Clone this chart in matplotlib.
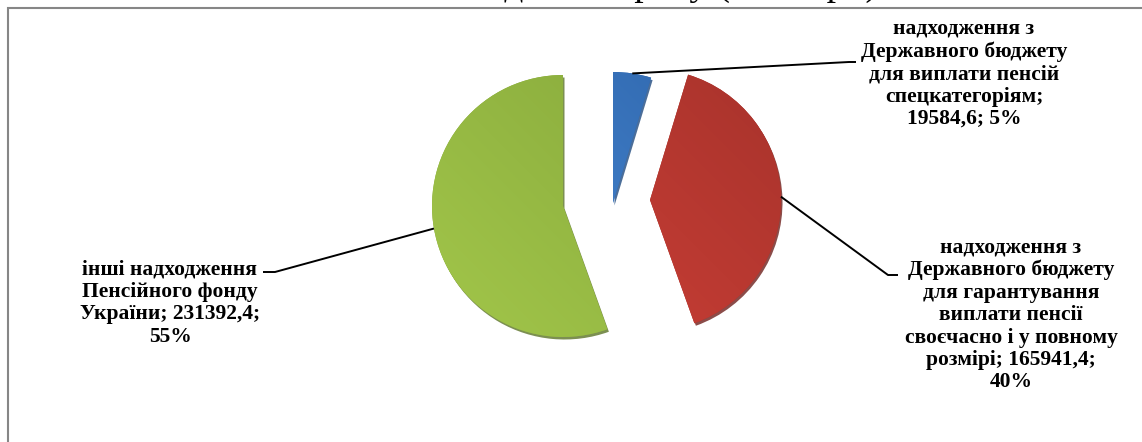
import numpy as np
import matplotlib
matplotlib.use("Agg")
from matplotlib import pyplot as plt
from matplotlib.colors import LinearSegmentedColormap
from matplotlib.patches import Wedge

# pension fund receipts, mln UAH
categories = [
    "надходження з\nДержавного бюджету\nдля виплати пенсій\nспецкатегоріям",
    "надходження з\nДержавного бюджету\nдля гарантування\nвиплати пенсії\nсвоєчасно і у повному\nрозмірі",
    "інші надходження\nПенсійного фонду\nУкраїни",
]
values = [19584.6, 165941.4, 231392.4]
shares_pct = [5, 40, 55]
title = "Обсяги коштів ПФ до 2011 року (млн. грн)"

# (light, dark) gradient ends per slice
colors = [("#4a8ad6", "#2f67ad"), ("#cc3f36", "#a8332c"), ("#a2c64a", "#88aa3c")]
shadow_colors = ["#1f4a80", "#6e1f1b", "#5b7327"]

# layout in pixels (y measured upward from bottom of the figure)
W, H = 1142, 442
radius = 131
slice_centers = [(613, 239), (650, 242), (563, 236)]
label_pos = [(964, 368), (1011, 127), (170, 139)]
leader_elbows = [[(849, 380), (856, 380)],
                 [(888, 167), (898, 167)],
                 [(275, 170), (263, 170)]]

fig = plt.figure(figsize=(W / 100, H / 100), dpi=100)
ax = fig.add_axes([0, 0, 1, 1])

wedges, _ = ax.pie(values, startangle=90, counterclock=False, radius=radius,
                   center=slice_centers[0], wedgeprops=dict(linewidth=0))

for i, w in enumerate(wedges):
    cx, cy = slice_centers[i]
    w.set_center((cx, cy))
    w.set_facecolor(colors[i][1])
    w.set_zorder(3)
    # soft dark rim to imitate the 3D edge
    sh = Wedge((cx + 1.5, cy - 2.5), radius, w.theta1, w.theta2,
               facecolor=shadow_colors[i], edgecolor="none", alpha=0.8, zorder=2)
    ax.add_patch(sh)
    cmap = LinearSegmentedColormap.from_list("g%d" % i, [colors[i][0], colors[i][1]])
    yy, xx = np.mgrid[0:1:100j, 0:1:100j]
    grad = (xx * 0.5 + (1 - yy) * 0.5)
    im = ax.imshow(grad, cmap=cmap, extent=[cx - radius, cx + radius, cy - radius, cy + radius],
                   origin="upper", zorder=4, interpolation="bilinear")
    im.set_clip_path(w)

    # leader line from the arc at the slice mid-angle
    mid = np.deg2rad((w.theta1 + w.theta2) / 2)
    start = (cx + radius * np.cos(mid), cy + radius * np.sin(mid))
    pts = [start] + leader_elbows[i]
    ax.plot([p[0] for p in pts], [p[1] for p in pts], color="black", lw=1.4, zorder=5,
            solid_capstyle="butt")

    val = f"{values[i]:.1f}".replace(".", ",")
    if i == 0:
        txt = f"{categories[i]};\n{val}; {shares_pct[i]}%"
    else:
        txt = f"{categories[i]}; {val};\n{shares_pct[i]}%"
    ax.text(label_pos[i][0], label_pos[i][1], txt, ha="center", va="center",
            multialignment="center", fontfamily="Liberation Serif", fontweight="bold",
            fontsize=15.5, linespacing=1.16, zorder=6)

# chart border (cropped: only left and top edges visible)
ax.plot([8, 8, W + 5], [-5, H - 8, H - 8], color="#868686", lw=1.5, zorder=1,
        solid_joinstyle="miter")

# title sits above the visible area, only its descenders show
fig.text(878 / W, 1 + 5 / H, title, ha="right", va="baseline",
         fontfamily="Liberation Serif", fontsize=27)

ax.set_xlim(0, W)
ax.set_ylim(0, H)
ax.set_aspect("equal")
ax.axis("off")

fig.savefig("out.png", dpi=100)
